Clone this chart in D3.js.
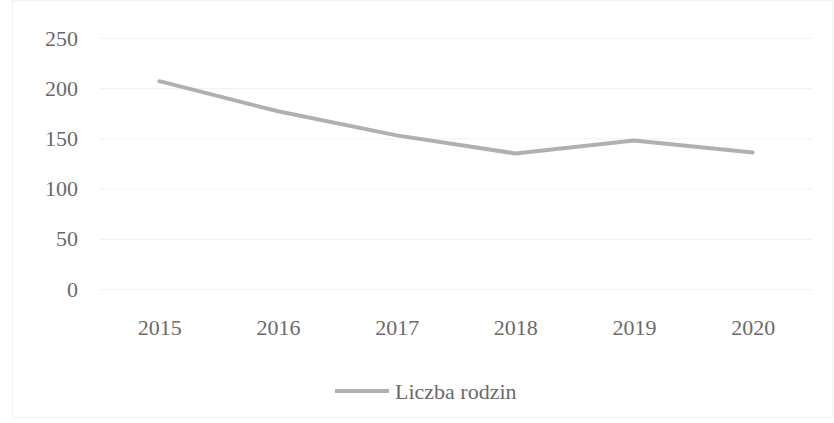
<!DOCTYPE html>
<html>
<head>
<meta charset="utf-8">
<script src="https://cdn.jsdelivr.net/npm/d3@7"></script>
<style>
	body { margin: 0; background: #fff; }
</style>
</head>
<body>
<div id="chart"></div>
<script>
var years = ['2015', '2016', '2017', '2018', '2019', '2020'];
var families = [207, 177, 153, 135, 148, 136];
var yTicks = [0, 50, 100, 150, 200, 250];
var seriesName = 'Liczba rodzin';

var width = 834, height = 423;
var margin = {top: 38, right: 22, bottom: 134, left: 100};
var serif = "'Liberation Serif'";

var svg = d3.select('#chart').append('svg')
	.attr('width', width)
	.attr('height', height);

// faint frame, like the scanned page
svg.append('rect')
	.attr('x', 12.5).attr('y', 0.5)
	.attr('width', width - 14).attr('height', height - 6)
	.attr('fill', 'none')
	.attr('stroke', '#f2f2f2');

var x = d3.scalePoint()
	.domain(years)
	.range([margin.left, width - margin.right])
	.padding(0.5);

var y = d3.scaleLinear()
	.domain([0, 250])
	.range([289, margin.top]);

// gridlines + y labels
var yAxis = svg.append('g')
	.attr('transform', 'translate(' + margin.left + ',0)')
	.call(d3.axisLeft(y).tickValues(yTicks).tickSize(-(width - margin.left - margin.right)).tickPadding(22));
yAxis.select('.domain').remove();
yAxis.selectAll('line').attr('stroke', '#f0f0f0');
yAxis.selectAll('text')
	.style('font-family', serif)
	.style('font-size', '22px')
	.attr('fill', '#6a6a6a');

// x labels
var xAxis = svg.append('g')
	.attr('transform', 'translate(0,' + y(0) + ')')
	.call(d3.axisBottom(x).tickSize(0).tickPadding(30));
xAxis.select('.domain').remove();
xAxis.selectAll('text')
	.style('font-family', serif)
	.style('font-size', '22px')
	.attr('fill', '#6a6a6a');

var line = d3.line()
	.x(function(d, i) { return x(years[i]); })
	.y(function(d) { return y(d); });

svg.append('path')
	.datum(families)
	.attr('d', line)
	.attr('fill', 'none')
	.attr('stroke', '#b0b0b0')
	.attr('stroke-width', 4)
	.attr('stroke-linecap', 'round')
	.attr('stroke-linejoin', 'round');

// legend
var legend = svg.append('g').attr('transform', 'translate(335,391)');
legend.append('line')
	.attr('x1', 0).attr('x2', 54)
	.attr('stroke', '#b0b0b0')
	.attr('stroke-width', 4);
legend.append('text')
	.attr('x', 60).attr('dy', '0.35em')
	.style('font-family', serif)
	.style('font-size', '22px')
	.attr('fill', '#6a6a6a')
	.text(seriesName);
</script>
</body>
</html>
